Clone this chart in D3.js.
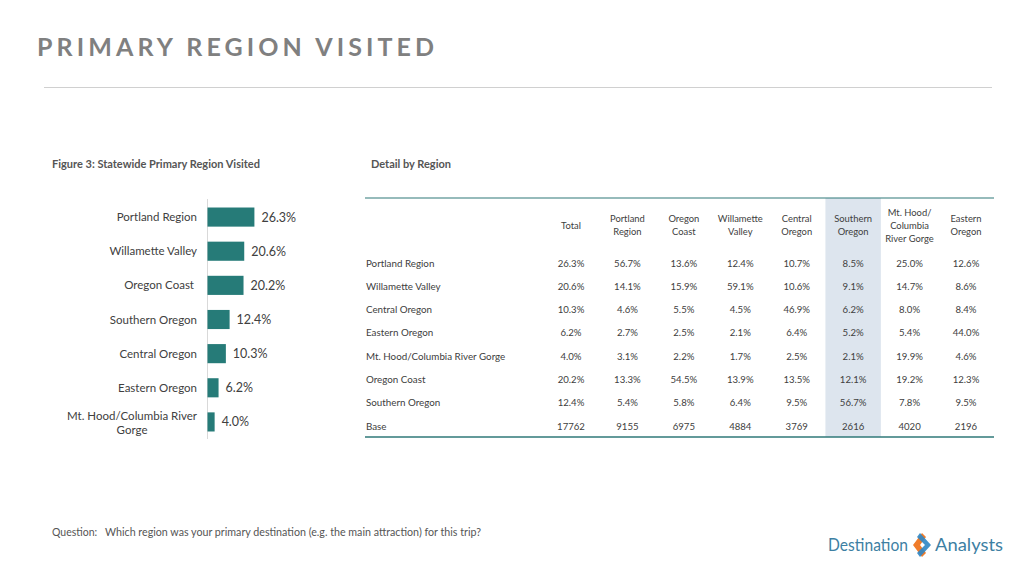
<!DOCTYPE html>
<html><head><meta charset="utf-8">
<script src="https://cdn.jsdelivr.net/npm/d3@7"></script>
<style>
body{margin:0;background:#fff;}
svg{display:block;font-family:Lato,"Open Sans",sans-serif;}
</style></head>
<body>
<svg id="c" width="1024" height="576"></svg>
<script>
// ---- data ----
const barCategories = ["Portland Region","Willamette Valley","Oregon Coast","Southern Oregon","Central Oregon","Eastern Oregon","Mt. Hood/Columbia River Gorge"];
const barValues = [26.3,20.6,20.2,12.4,10.3,6.2,4.0];

const tableColumns = ["Total","Portland Region","Oregon Coast","Willamette Valley","Central Oregon","Southern Oregon","Mt. Hood/ Columbia River Gorge","Eastern Oregon"];
const tableRows = ["Portland Region","Willamette Valley","Central Oregon","Eastern Oregon","Mt. Hood/Columbia River Gorge","Oregon Coast","Southern Oregon","Base"];
const rowPortland   = [26.3,56.7,13.6,12.4,10.7,8.5,25.0,12.6];
const rowWillamette = [20.6,14.1,15.9,59.1,10.6,9.1,14.7,8.6];
const rowCentral    = [10.3,4.6,5.5,4.5,46.9,6.2,8.0,8.4];
const rowEastern    = [6.2,2.7,2.5,2.1,6.4,5.2,5.4,44.0];
const rowMtHood     = [4.0,3.1,2.2,1.7,2.5,2.1,19.9,4.6];
const rowCoast      = [20.2,13.3,54.5,13.9,13.5,12.1,19.2,12.3];
const rowSouthern   = [12.4,5.4,5.8,6.4,9.5,56.7,7.8,9.5];
const rowBase       = [17762,9155,6975,4884,3769,2616,4020,2196];
const highlightColumn = "Southern Oregon";

const svg = d3.select("#c");
const dark = "#404040", teal = "#267b78";

// ---- title ----
svg.append("text").attr("x",37).attr("y",56)
  .attr("font-size",25).attr("font-weight",700).attr("letter-spacing",4.1)
  .attr("fill","#808080").text("PRIMARY REGION VISITED");
svg.append("line").attr("x1",44).attr("x2",992).attr("y1",87.5).attr("y2",87.5)
  .attr("stroke","#d0d0d0").attr("stroke-width",1.2);

svg.append("text").attr("x",52).attr("y",168).attr("font-size",11).attr("font-weight",700)
  .attr("fill","#555").text("Figure 3: Statewide Primary Region Visited");
svg.append("text").attr("x",371).attr("y",168).attr("font-size",11).attr("font-weight",700)
  .attr("fill","#555").text("Detail by Region");

// ---- bar chart ----
const x = d3.scaleLinear().domain([0,30]).range([207.5,261]);
const y = d3.scaleBand().domain(barCategories).range([200,439]).paddingInner(0.44).paddingOuter(0.22);
const g = svg.append("g");
g.append("line").attr("x1",207.5).attr("x2",207.5).attr("y1",199).attr("y2",439)
  .attr("stroke","#d9d9d9").attr("stroke-width",1);
g.selectAll("rect.bar").data(barValues).join("rect").attr("class","bar")
  .attr("x",x(0)).attr("y",(d,i)=>y(barCategories[i]))
  .attr("width",d=>x(d)-x(0)).attr("height",y.bandwidth()).attr("fill",teal);
g.selectAll("text.val").data(barValues).join("text").attr("class","val")
  .attr("x",d=>x(d)+7).attr("y",(d,i)=>y(barCategories[i])+y.bandwidth()/2+4.5)
  .attr("font-size",12.5).attr("fill",dark).text(d=>d.toFixed(1)+"%");
barCategories.forEach((c,i)=>{
  const cy = y(c)+y.bandwidth()/2;
  if(c.startsWith("Mt. Hood")){
    const t1 = g.append("text").attr("x",197).attr("y",cy-2).attr("text-anchor","end")
      .attr("font-size",11.5).attr("fill",dark).text("Mt. Hood/Columbia River");
    const w = t1.node().getComputedTextLength();
    g.append("text").attr("x",197-w/2).attr("y",cy+12).attr("text-anchor","middle")
      .attr("font-size",11.5).attr("fill",dark).text("Gorge");
  } else {
    g.append("text").attr("x",c==="Oregon Coast"?194:197).attr("y",cy+4).attr("text-anchor","end")
      .attr("font-size",11.5).attr("fill",dark).text(c);
  }
});

// ---- table ----
const rowsData = [rowPortland,rowWillamette,rowCentral,rowEastern,rowMtHood,rowCoast,rowSouthern,rowBase];
const cx = d3.scalePoint().domain(tableColumns).range([571,966]);
const ry = d3.scalePoint().domain(tableRows).range([263,426]);
const colW = (966-571)/7;
const t = svg.append("g");
t.append("rect").attr("x",cx(highlightColumn)-colW/2+0.5).attr("y",198).attr("width",colW-1).attr("height",239)
  .attr("fill","#dde5ee");
t.append("line").attr("x1",365).attr("x2",994).attr("y1",198).attr("y2",198).attr("stroke","#2f7878").attr("stroke-width",1.2);
t.append("line").attr("x1",365).attr("x2",994).attr("y1",437).attr("y2",437).attr("stroke","#2f7878").attr("stroke-width",1.5);

const hdrLines = {"Total":["Total"],"Portland Region":["Portland","Region"],"Oregon Coast":["Oregon","Coast"],
  "Willamette Valley":["Willamette","Valley"],"Central Oregon":["Central","Oregon"],"Southern Oregon":["Southern","Oregon"],
  "Mt. Hood/ Columbia River Gorge":["Mt. Hood/","Columbia","River Gorge"],"Eastern Oregon":["Eastern","Oregon"]};
tableColumns.forEach(c=>{
  const lines = hdrLines[c];
  const lh = 13;
  const y0 = 228.5 - (lines.length-1)*lh/2;
  const tx = t.append("text").attr("text-anchor","middle").attr("font-size",9.4).attr("fill",dark);
  lines.forEach((l,i)=>tx.append("tspan").attr("x",cx(c)).attr("y",y0+i*lh).text(l));
});
tableRows.forEach((r,ri)=>{
  t.append("text").attr("x",366).attr("y",ry(r)+3.5).attr("font-size",9.8).attr("fill",dark).text(r);
  t.selectAll(null).data(rowsData[ri]).join("text")
    .attr("x",(d,i)=>cx(tableColumns[i])).attr("y",ry(r)+3.5).attr("text-anchor","middle")
    .attr("font-size",9.6).attr("fill",dark)
    .text(d=> r==="Base" ? d : d.toFixed(1)+"%");
});

// ---- footer ----
svg.append("text").attr("x",52).attr("y",536).attr("font-size",10.5).attr("fill","#555").text("Question:");
svg.append("text").attr("x",105).attr("y",536).attr("font-size",10.7).attr("fill","#555")
  .text("Which region was your primary destination (e.g. the main attraction) for this trip?");

// logo
const logo = svg.append("g");
logo.append("text").attr("x",828).attr("y",551).attr("font-size",17).attr("fill","#3d7fa3")
  .attr("textLength",80).attr("lengthAdjust","spacingAndGlyphs").text("Destination");
logo.append("text").attr("x",935).attr("y",551).attr("font-size",17).attr("fill","#3d7fa3")
  .attr("textLength",68).attr("lengthAdjust","spacingAndGlyphs").text("Analysts");
logo.append("path").attr("d","M922,533 L913,545 L922,557 L926,553 L920,545 L926,537 Z").attr("fill","#f07c2a");
logo.append("path").attr("d","M920,533 L931,545 L920,557 L917,553 L925,545 L917,537 Z").attr("fill","#2f86c4").attr("opacity",0.9);
</script>
</body></html>
